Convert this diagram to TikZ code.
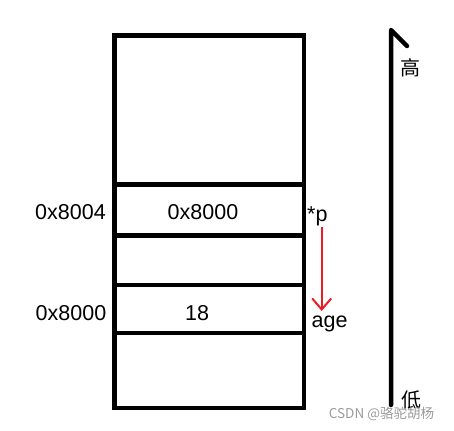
\documentclass[tikz,border=0pt]{standalone}
\usepackage{fontspec}
\setmainfont{Liberation Sans}
\newfontfamily\cjk{Noto Sans CJK SC}
\usetikzlibrary{arrows.meta}
\definecolor{paintred}{HTML}{ED1C24}
\definecolor{wmgray}{HTML}{9A9A9A}
\begin{document}
\begin{tikzpicture}[x=1pt,y=-1pt,
  cell/.style={line width=4.5pt},
  lbl/.style={inner sep=0pt,font=\fontsize{21.5}{24}\selectfont},
  cjklbl/.style={inner sep=0pt,font=\cjk\fontsize{20}{22}\selectfont},
  ptr/.style={draw=paintred,line width=2pt,-{Straight Barb[length=11pt,width=19pt,line width=2pt]}},
  axis/.style={line width=4.5pt,line cap=round,line join=round}]
\path[use as bounding box] (0,0) rectangle (454,430);
% memory column
\draw[cell] (114.3,35.5) rectangle (304,408);
\draw[cell] (114.3,184.5) -- (304,184.5);
\draw[cell] (114.3,235.3) -- (304,235.3);
\draw[cell] (114.3,285) -- (304,285);
\draw[cell] (114.3,333) -- (304,333);
% texts
\node[lbl,anchor=base] (addrp) at (70.5,219) {0x8004};
\node[lbl,anchor=base] (valp) at (203,219) {0x8000};
\node[lbl,anchor=base] (addra) at (71,320.5) {0x8000};
\node[lbl,anchor=base] (vala) at (197,320.5) {18};
\node[lbl,anchor=base west] (p) at (307,221.5) {*p};
\node[lbl,anchor=base west] (age) at (311.5,327) {age};
% pointer arrow
\coordinate (ptop) at (321.7,227);
\coordinate (pbot) at (321.7,311);
\draw[ptr] (ptop) -- (pbot);
% address axis
\coordinate (axbot) at (391,405);
\coordinate (axtop) at (391,30);
\coordinate (axbarb) at (407,46);
\draw[axis] (axbot) -- (axtop) -- (axbarb);
\node[cjklbl] (high) at (410,68) {高};
\node[cjklbl] (low) at (411,400) {低};
% watermark
\node[inner sep=0pt,text=wmgray,font=\cjk\fontsize{13.5}{15}\selectfont] (wm) at (381.5,413.5) {CSDN @骆驼胡杨};
\end{tikzpicture}
\end{document}
